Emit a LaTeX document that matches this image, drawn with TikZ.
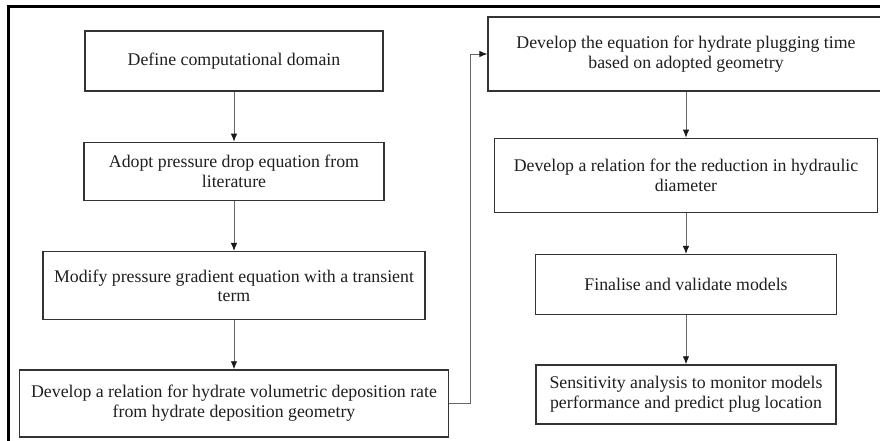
\documentclass[tikz,border=0pt]{standalone}
\usepackage{fontspec}
\setmainfont{Liberation Serif}
\usetikzlibrary{arrows.meta,positioning}

\begin{document}
\begin{tikzpicture}[
    x=1pt, y=-1pt,
    -{Latex[length=8pt,width=6.5pt,color=black!90]},
    node distance=50pt,
    step node/.style={rectangle,draw=black!80,line width=1.3pt,fill=white,align=center,inner sep=2pt,text=black!88,font=\fontsize{17.8}{19.5}\selectfont},
    flow line/.style={draw=black!60,line width=0.9pt}]

  \useasboundingbox (0,0) rectangle (880,441);

  % outer frame, cut off at the right and bottom
  \draw[-,line width=3pt,line join=miter] (8,445) -- (8,7) -- (885,7);

  % left column
  \node[step node,minimum width=298pt,minimum height=60pt] (Domain) at (234,61) {Define computational domain};
  \node[step node,minimum width=300pt,minimum height=58pt] (PressureDrop) [below=of Domain] {Adopt pressure drop equation from\\literature};
  \node[step node,minimum width=382pt,minimum height=68pt] (Transient) [below=of PressureDrop] {Modify pressure gradient equation with a transient\\term};
  \node[step node,minimum width=429pt,minimum height=67pt] (DepositionRate) [below=49pt of Transient] {Develop a relation for hydrate volumetric deposition rate\\from hydrate deposition geometry};

  % right column
  \node[step node,minimum width=396pt,minimum height=74pt] (PluggingTime) at (686,54) {Develop the equation for hydrate plugging time\\based on adopted geometry};
  \node[step node,minimum width=383pt,minimum height=74pt] (Diameter) [below=46pt of PluggingTime] {Develop a relation for the reduction in hydraulic\\diameter};
  \node[step node,minimum width=301pt,minimum height=60pt] (Validate) [below=41pt of Diameter] {Finalise and validate models};
  \node[step node,minimum width=300pt,minimum height=59pt] (Sensitivity) [below=49pt of Validate] {Sensitivity analysis to monitor models\\performance and predict plug location};

  \path[flow line]
    (Domain) edge (PressureDrop)
    (PressureDrop) edge (Transient)
    (Transient) edge (DepositionRate)
    (PluggingTime) edge (Diameter)
    (Diameter) edge (Validate)
    (Validate) edge (Sensitivity);

  \draw[flow line] (DepositionRate.east) -- ++(21,0) |- (PluggingTime.west);

\end{tikzpicture}
\end{document}
